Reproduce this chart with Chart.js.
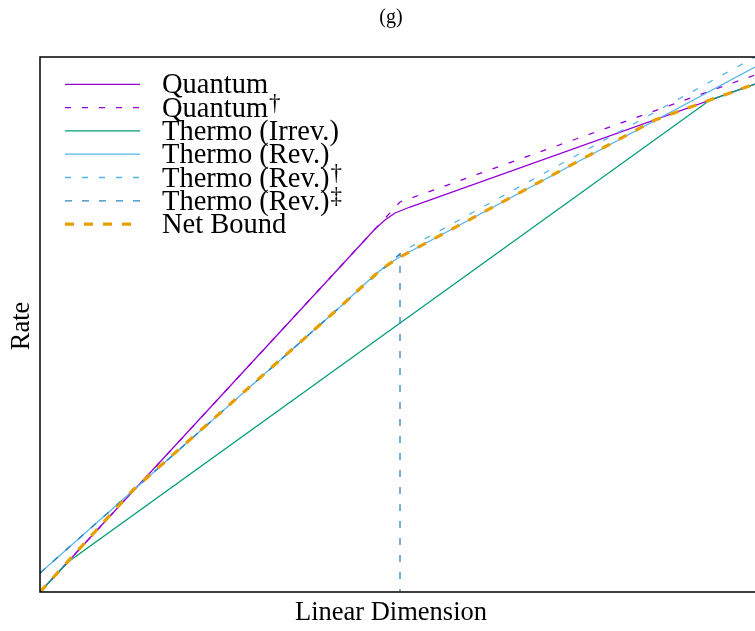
<!DOCTYPE html>
<html>
<head>
<meta charset="utf-8">
<script src="https://cdn.jsdelivr.net/npm/chart.js@4.4.0/dist/chart.umd.min.js"></script>
<style>
  html, body { margin:0; padding:0; background:#fff; }
  #wrap { width:755px; height:631px; position:relative; }
</style>
</head>
<body>
<div id="wrap"><canvas id="chart" width="755" height="631"></canvas></div>
<script>
// values, axes 0..100 (no ticks in the original)
const quantum    = [[0,0],[41.96,60.75],[46.85,67.85],[48.25,69.53],[49.65,70.84],[51.75,71.96],[100,94.95]];
const quantumDag = [[0,0],[50.35,72.9],[100,96.64]];
const thermoIrr  = [[0,0],[3.92,5.61],[93.71,91.96],[100,94.95]];
const thermoRev  = [[0,3.55],[41.96,53.27],[45.73,57.94],[47.97,60.56],[50.07,62.43],[100,98.13]];
const revDag     = [[0,3.55],[50.77,63.74],[100,100]];
const revDdag    = [[0,3.55],[50.35,63.18],[50.35,0]];
const netBound   = [[0,0],[13.01,19.07],[41.96,53.27],[45.73,57.94],[47.97,60.56],[50.07,62.43],[86.01,88.22],[93.71,91.96],[100,94.95]];

const names = ['Quantum','Quantum','Thermo (Irrev.)','Thermo (Rev.)','Thermo (Rev.)','Thermo (Rev.)','Net Bound'];
const marks = ['','\u2020','','','\u2020','\u2021',''];

const pts = a => a.map(p => ({x:p[0], y:p[1]}));

function ds(i, data, color, width, dash, order){
  return {
    label: names[i], data: pts(data), showLine: true, pointRadius: 0,
    borderColor: color, borderWidth: width, borderDash: dash, order: order,
    fill: false, tension: 0, mark: marks[i]
  };
}

const datasets = [
  ds(0, quantum,    '#9400D3', 1.3, [],     6),
  ds(1, quantumDag, '#9400D3', 1.3, [6,11], 5),
  ds(2, thermoIrr,  '#009E73', 1.3, [],     4),
  ds(3, thermoRev,  '#56B4E9', 1.3, [],     3),
  ds(4, revDag,     '#56B4E9', 1.3, [6,11], 2),
  ds(5, revDdag,    '#2f86c0', 1.3, [7,10], 1),
  ds(6, netBound,   '#E69F00', 3.2, [9,10], 0)
];

const serif = '"Liberation Serif", "DejaVu Serif", serif';

const decor = {
  id: 'decor',
  afterDraw(chart){
    const c = chart.ctx, a = chart.chartArea;
    c.save();
    // frame
    c.strokeStyle = '#000'; c.lineWidth = 1.5;
    c.beginPath();
    c.moveTo(a.right, a.top); c.lineTo(a.left, a.top);
    c.lineTo(a.left, a.bottom); c.lineTo(a.right, a.bottom);
    c.stroke();

    // legend
    datasets.forEach((d, i) => {
      const y = 84.3 + i * 23.3;
      c.strokeStyle = d.borderColor;
      c.lineWidth = d.borderWidth;
      c.setLineDash(d.borderDash);
      c.beginPath(); c.moveTo(65, y); c.lineTo(140, y); c.stroke();
      c.setLineDash([]);
      c.fillStyle = '#000';
      c.textBaseline = 'alphabetic';
      c.textAlign = 'left';
      c.font = '28.5px ' + serif;
      c.fillText(d.label, 162, y + 9);
      if (d.mark) {
        const w = c.measureText(d.label).width;
        c.font = '23px ' + serif;
        c.fillText(d.mark, 162 + w + 1, y + 2);
      }
    });

    // titles
    c.fillStyle = '#000';
    c.textAlign = 'center';
    c.textBaseline = 'middle';
    c.font = '20px ' + serif;
    c.fillText('(g)', 391, 18);
    c.font = '26.5px ' + serif;
    c.fillText('Linear Dimension', 391, 613);
    c.translate(22, 326);
    c.rotate(-Math.PI / 2);
    c.fillText('Rate', 0, 0);
    c.restore();
  }
};

new Chart(document.getElementById('chart'), {
  type: 'scatter',
  data: { datasets: datasets },
  options: {
    responsive: false,
    animation: false,
    devicePixelRatio: 1,
    layout: { padding: { left: 40, right: 0, top: 57, bottom: 39 } },
    plugins: { legend: { display: false }, tooltip: { enabled: false } },
    scales: {
      x: { type: 'linear', min: 0, max: 100, display: false },
      y: { type: 'linear', min: 0, max: 100, display: false }
    }
  },
  plugins: [decor]
});
</script>
</body>
</html>
